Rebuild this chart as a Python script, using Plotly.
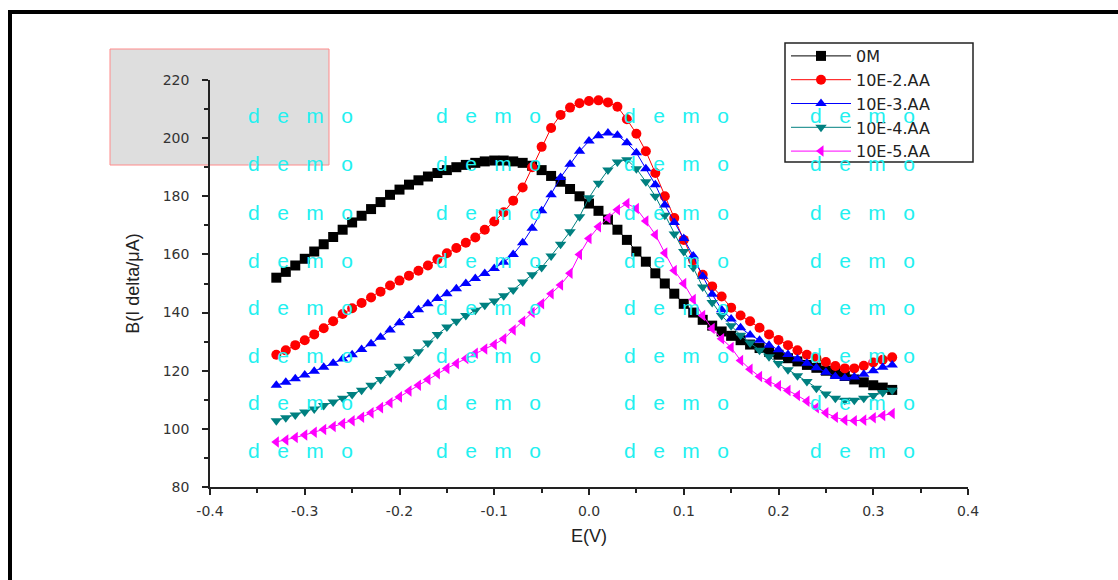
import plotly.graph_objects as go

# ---------------- data ----------------
E_V = [-0.33, -0.32, -0.31, -0.30, -0.29, -0.28, -0.27, -0.26, -0.25, -0.24,
       -0.23, -0.22, -0.21, -0.20, -0.19, -0.18, -0.17, -0.16, -0.15, -0.14,
       -0.13, -0.12, -0.11, -0.10, -0.09, -0.08, -0.07, -0.06, -0.05, -0.04,
       -0.03, -0.02, -0.01, 0.00, 0.01, 0.02, 0.03, 0.04, 0.05, 0.06,
       0.07, 0.08, 0.09, 0.10, 0.11, 0.12, 0.13, 0.14, 0.15, 0.16,
       0.17, 0.18, 0.19, 0.20, 0.21, 0.22, 0.23, 0.24, 0.25, 0.26,
       0.27, 0.28, 0.29, 0.30, 0.31, 0.32]

b_0M = [152, 154, 156.2, 158.5, 161, 163.5, 166, 168.5, 171, 173.3,
        175.6, 178, 180.5, 182.3, 184, 185.5, 186.8, 188, 189, 190,
        190.8, 191.5, 192, 192.3, 192.3, 192, 191.5, 190.5, 189, 187,
        185, 182.5, 180, 177.5, 175, 172, 168.5, 165, 161, 157.5,
        153.5, 150, 146.5, 143, 140, 137.5, 135.5, 133.5, 132, 130.5,
        129, 127.8, 126.5, 125.5, 124.3, 123.2, 122, 121, 120, 119.2,
        118.2, 117, 116, 115, 114.2, 113.4]

b_e2 = [125.5, 127, 128.8, 130.5, 132.5, 134.6, 137, 139.5, 141.5, 143.3,
        145.2, 147.2, 149.3, 151, 152.7, 154.4, 156.2, 158.3, 160.4, 162.2,
        164, 165.8, 168.5, 171.3, 174.5, 178.5, 183, 190, 197, 203.5,
        208, 210.5, 212, 212.8, 213, 212.3, 210.8, 206.5, 201.5, 195.5,
        188, 180, 172.5, 165, 158, 153, 149, 145.5, 141.7, 139,
        137, 134.8, 132.5, 130.6, 128.8, 127, 125.5, 124.3, 123, 121.6,
        120.8, 120.8, 121.7, 122.8, 123.8, 124.6]

b_e3 = [115, 116, 117.2, 118.5, 119.8, 121.2, 122.6, 124, 125.5, 127.3,
        129.3, 131.5, 134, 136.5, 139, 141, 143, 144.8, 146.5, 148.2,
        150, 151.7, 153.4, 155.2, 157.3, 160, 164, 169, 175, 180.5,
        186.5, 191, 195.5, 199, 200.8, 201.8, 201, 198.4, 195, 189.5,
        184, 177, 171, 165.5, 159.5, 152.5, 146.3, 141, 137.8, 134.8,
        132.3, 130.5, 128.8, 127.2, 125.6, 124, 122.6, 121, 119.5, 118,
        117.5, 117.8, 118.8, 120, 121.2, 122]

b_e4 = [102.8, 103.8, 104.8, 105.8, 106.8, 108, 109.2, 110.5, 111.8, 113.3,
        115, 117, 119.2, 121.5, 124, 126.5, 129.5, 132.5, 135, 137,
        139, 140.8, 142.5, 144, 145.8, 147.8, 150.5, 153, 155.5, 159.5,
        163.5, 167.8, 173, 179.5, 184.5, 189, 191.8, 192.6, 189.5, 185,
        180, 173.5, 167, 161, 155.5, 148.8, 143.5, 139, 135.5, 132.2,
        129.5, 127, 124.8, 122.5, 120.3, 118.3, 116.3, 114, 112, 110.5,
        109.8, 109.8, 110.5, 111.5, 112.5, 113.3]

b_e5 = [95.5, 96.2, 97, 97.9, 98.8, 99.8, 100.8, 101.8, 102.8, 104,
        105.5, 107.3, 109, 111, 113, 115, 117, 119, 120.8, 122.5,
        124.2, 126, 127.5, 129, 131, 134, 137, 140, 143, 146.5,
        149.5, 153.5, 160, 165.5, 169.5, 172.5, 175.4, 177.5, 175.8, 171.5,
        166.8, 160.5, 154.5, 150, 144.5, 139, 134.5, 131, 128, 123.5,
        120.5, 118, 116.3, 114.8, 113.2, 111.5, 109.5, 107.3, 105.5, 104,
        103, 102.8, 103, 103.8, 104.6, 105.3]

series_names = ["0M", "10E-2.AA", "10E-3.AA", "10E-4.AA", "10E-5.AA"]
series_values = [b_0M, b_e2, b_e3, b_e4, b_e5]

x_tick_vals = [-0.4, -0.3, -0.2, -0.1, 0.0, 0.1, 0.2, 0.3, 0.4]
x_tick_text = ["-0.4", "-0.3", "-0.2", "-0.1", "0.0", "0.1", "0.2", "0.3", "0.4"]
y_tick_vals = [80, 100, 120, 140, 160, 180, 200, 220]

# ---------------- style ----------------
colors = ["#000000", "#ff0000", "#0000ff", "#008080", "#ff00ff"]
symbols = ["square", "circle", "triangle-up", "triangle-down", "triangle-left"]

FONT = "Arial, Liberation Sans, sans-serif"
WIDE = "DejaVu Sans"

fig = go.Figure()
for name, vals, c, s in zip(series_names, series_values, colors, symbols):
    fig.add_trace(go.Scatter(
        x=E_V, y=vals, name=name, mode="lines+markers",
        line=dict(color=c, width=1),
        marker=dict(symbol=s, color=c, size=10, line=dict(width=0)),
    ))

L, R, T, B = 210, 150, 80, 93
W, H = 1118, 580
pw, ph = W - L - R, H - T - B

def px_x(px):
    return (px - L) / pw

def px_y(py):
    return (H - B - py) / ph

shapes = [
    # outer black frame
    dict(type="rect", xref="paper", yref="paper",
         x0=px_x(10), x1=px_x(1130), y0=px_y(595), y1=px_y(12),
         line=dict(color="black", width=4), fillcolor="rgba(0,0,0,0)", layer="below"),
    # grey box at top-left
    dict(type="rect", xref="paper", yref="paper",
         x0=px_x(110), x1=px_x(329), y0=px_y(165), y1=px_y(49),
         line=dict(color="#ff8a8a", width=1), fillcolor="#dedede", layer="below"),
    # legend frame
    dict(type="rect", xref="paper", yref="paper",
         x0=px_x(785), x1=px_x(973), y0=px_y(162), y1=px_y(43),
         line=dict(color="#222", width=1.5), fillcolor="white", layer="above"),
]

annotations = []
wm_cols = [300, 488, 676, 862]
wm_rows = [115, 163, 212, 260, 307, 355, 402, 450]
nb = "\u00a0\u00a0\u00a0"
wm_text = "d" + nb + "e" + nb + "m" + nb + "o"
for ry in wm_rows:
    for cx in wm_cols:
        annotations.append(dict(
            xref="paper", yref="paper", x=px_x(cx), y=px_y(ry),
            text=wm_text, showarrow=False, xanchor="center", yanchor="middle",
            font=dict(family=FONT, size=21, color="#22f0f0")))

fig.update_layout(
    width=W, height=H,
    margin=dict(l=L, r=R, t=T, b=B, pad=0),
    paper_bgcolor="white", plot_bgcolor="rgba(0,0,0,0)",
    font=dict(family=FONT, color="#222"),
    shapes=shapes,
    annotations=annotations,
    legend=dict(
        x=px_x(786), y=px_y(39), xanchor="left", yanchor="top",
        bgcolor="rgba(0,0,0,0)", borderwidth=0,
        font=dict(family=WIDE, size=16, color="#222"),
        tracegroupgap=0, itemwidth=60,
    ),
    showlegend=True,
)

fig.update_xaxes(
    range=[-0.4, 0.4], showgrid=False, zeroline=False,
    showline=True, linecolor="#222", linewidth=1.5,
    ticks="outside", ticklen=6, tickwidth=1.5, tickcolor="#222",
    tickvals=x_tick_vals, ticktext=x_tick_text,
    tickfont=dict(family=WIDE, size=14, color="#333"),
    ticklabelstandoff=4,
    minor=dict(ticks="outside", ticklen=4, tickwidth=1.5, tickcolor="#222", dtick=0.05, showgrid=False),
    title=dict(text="E(V)", font=dict(family=FONT, size=18, color="#222"), standoff=12),
)
fig.update_yaxes(
    range=[80, 220], showgrid=False, zeroline=False,
    showline=True, linecolor="#222", linewidth=1.5,
    ticks="outside", ticklen=6, tickwidth=1.5, tickcolor="#222",
    tickvals=y_tick_vals,
    tickfont=dict(family=WIDE, size=14, color="#333"),
    ticklabelstandoff=10,
    minor=dict(ticks="outside", ticklen=4, tickwidth=1.5, tickcolor="#222", dtick=10, showgrid=False),
    title=dict(text="B(I delta/μA)", font=dict(family=FONT, size=18, color="#222"), standoff=18),
)

fig.write_html("out.html")
